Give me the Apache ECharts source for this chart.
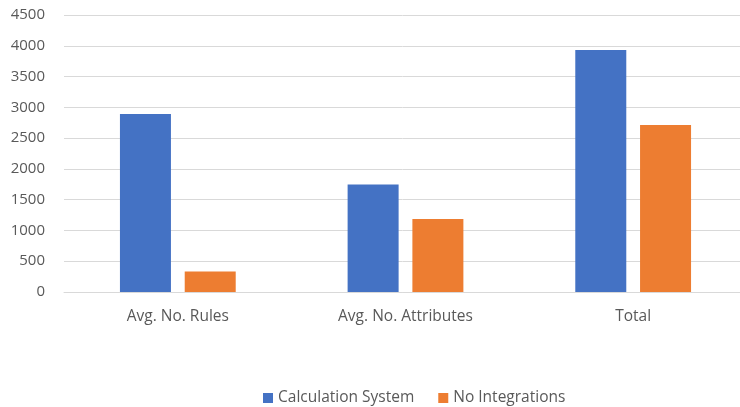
<!DOCTYPE html>
<html>
<head>
<meta charset="utf-8">
<script src="https://cdn.jsdelivr.net/npm/echarts@6/dist/echarts.min.js"></script>
<style>
html,body{margin:0;padding:0;background:#fff;}
#chart{width:740px;height:407px;}
</style>
</head>
<body>
<div id="chart"></div>
<script>
const categories = ["Avg. No. Rules", "Avg. No. Attributes", "Total"];
const calcSystem = [2890, 1745, 3930];
const noIntegrations = [335, 1185, 2715];
const seriesNames = ["Calculation System", "No Integrations"];

const chart = echarts.init(document.getElementById('chart'));
const font = "'Open Sans', 'Noto Sans', sans-serif";
chart.setOption({
  animation: false,
  textStyle: { fontFamily: font },
  grid: { left: 64, width: 683, top: 15, height: 277, containLabel: false, outerBoundsMode: 'none' },
  legend: {
    top: 385,
    left: 258,
    itemWidth: 10,
    itemHeight: 10,
    itemGap: 24,
    icon: 'rect',
    textStyle: { color: '#595959', fontSize: 15.5, fontFamily: font },
    data: seriesNames
  },
  xAxis: {
    type: 'category',
    data: categories,
    axisLine: { show: true, lineStyle: { color: '#d9d9d9', width: 1 } },
    axisTick: { show: false },
    axisLabel: { color: '#595959', fontSize: 15.5, margin: 17, fontFamily: font }
  },
  yAxis: {
    type: 'value',
    min: 0,
    max: 4500,
    interval: 500,
    axisLine: { show: false },
    axisTick: { show: false },
    axisLabel: { color: '#595959', fontSize: 15, margin: 19, fontFamily: font,
      formatter: function (v) { return String(v); } },
    splitLine: { lineStyle: { color: '#d9d9d9', width: 1 } }
  },
  series: [
    {
      name: seriesNames[0],
      type: 'bar',
      data: calcSystem,
      barWidth: 51,
      barGap: '27%',
      itemStyle: { color: '#4472C4' }
    },
    {
      name: seriesNames[1],
      type: 'bar',
      data: noIntegrations,
      barWidth: 51,
      itemStyle: { color: '#ED7D31' }
    }
  ]
});
</script>
</body>
</html>
